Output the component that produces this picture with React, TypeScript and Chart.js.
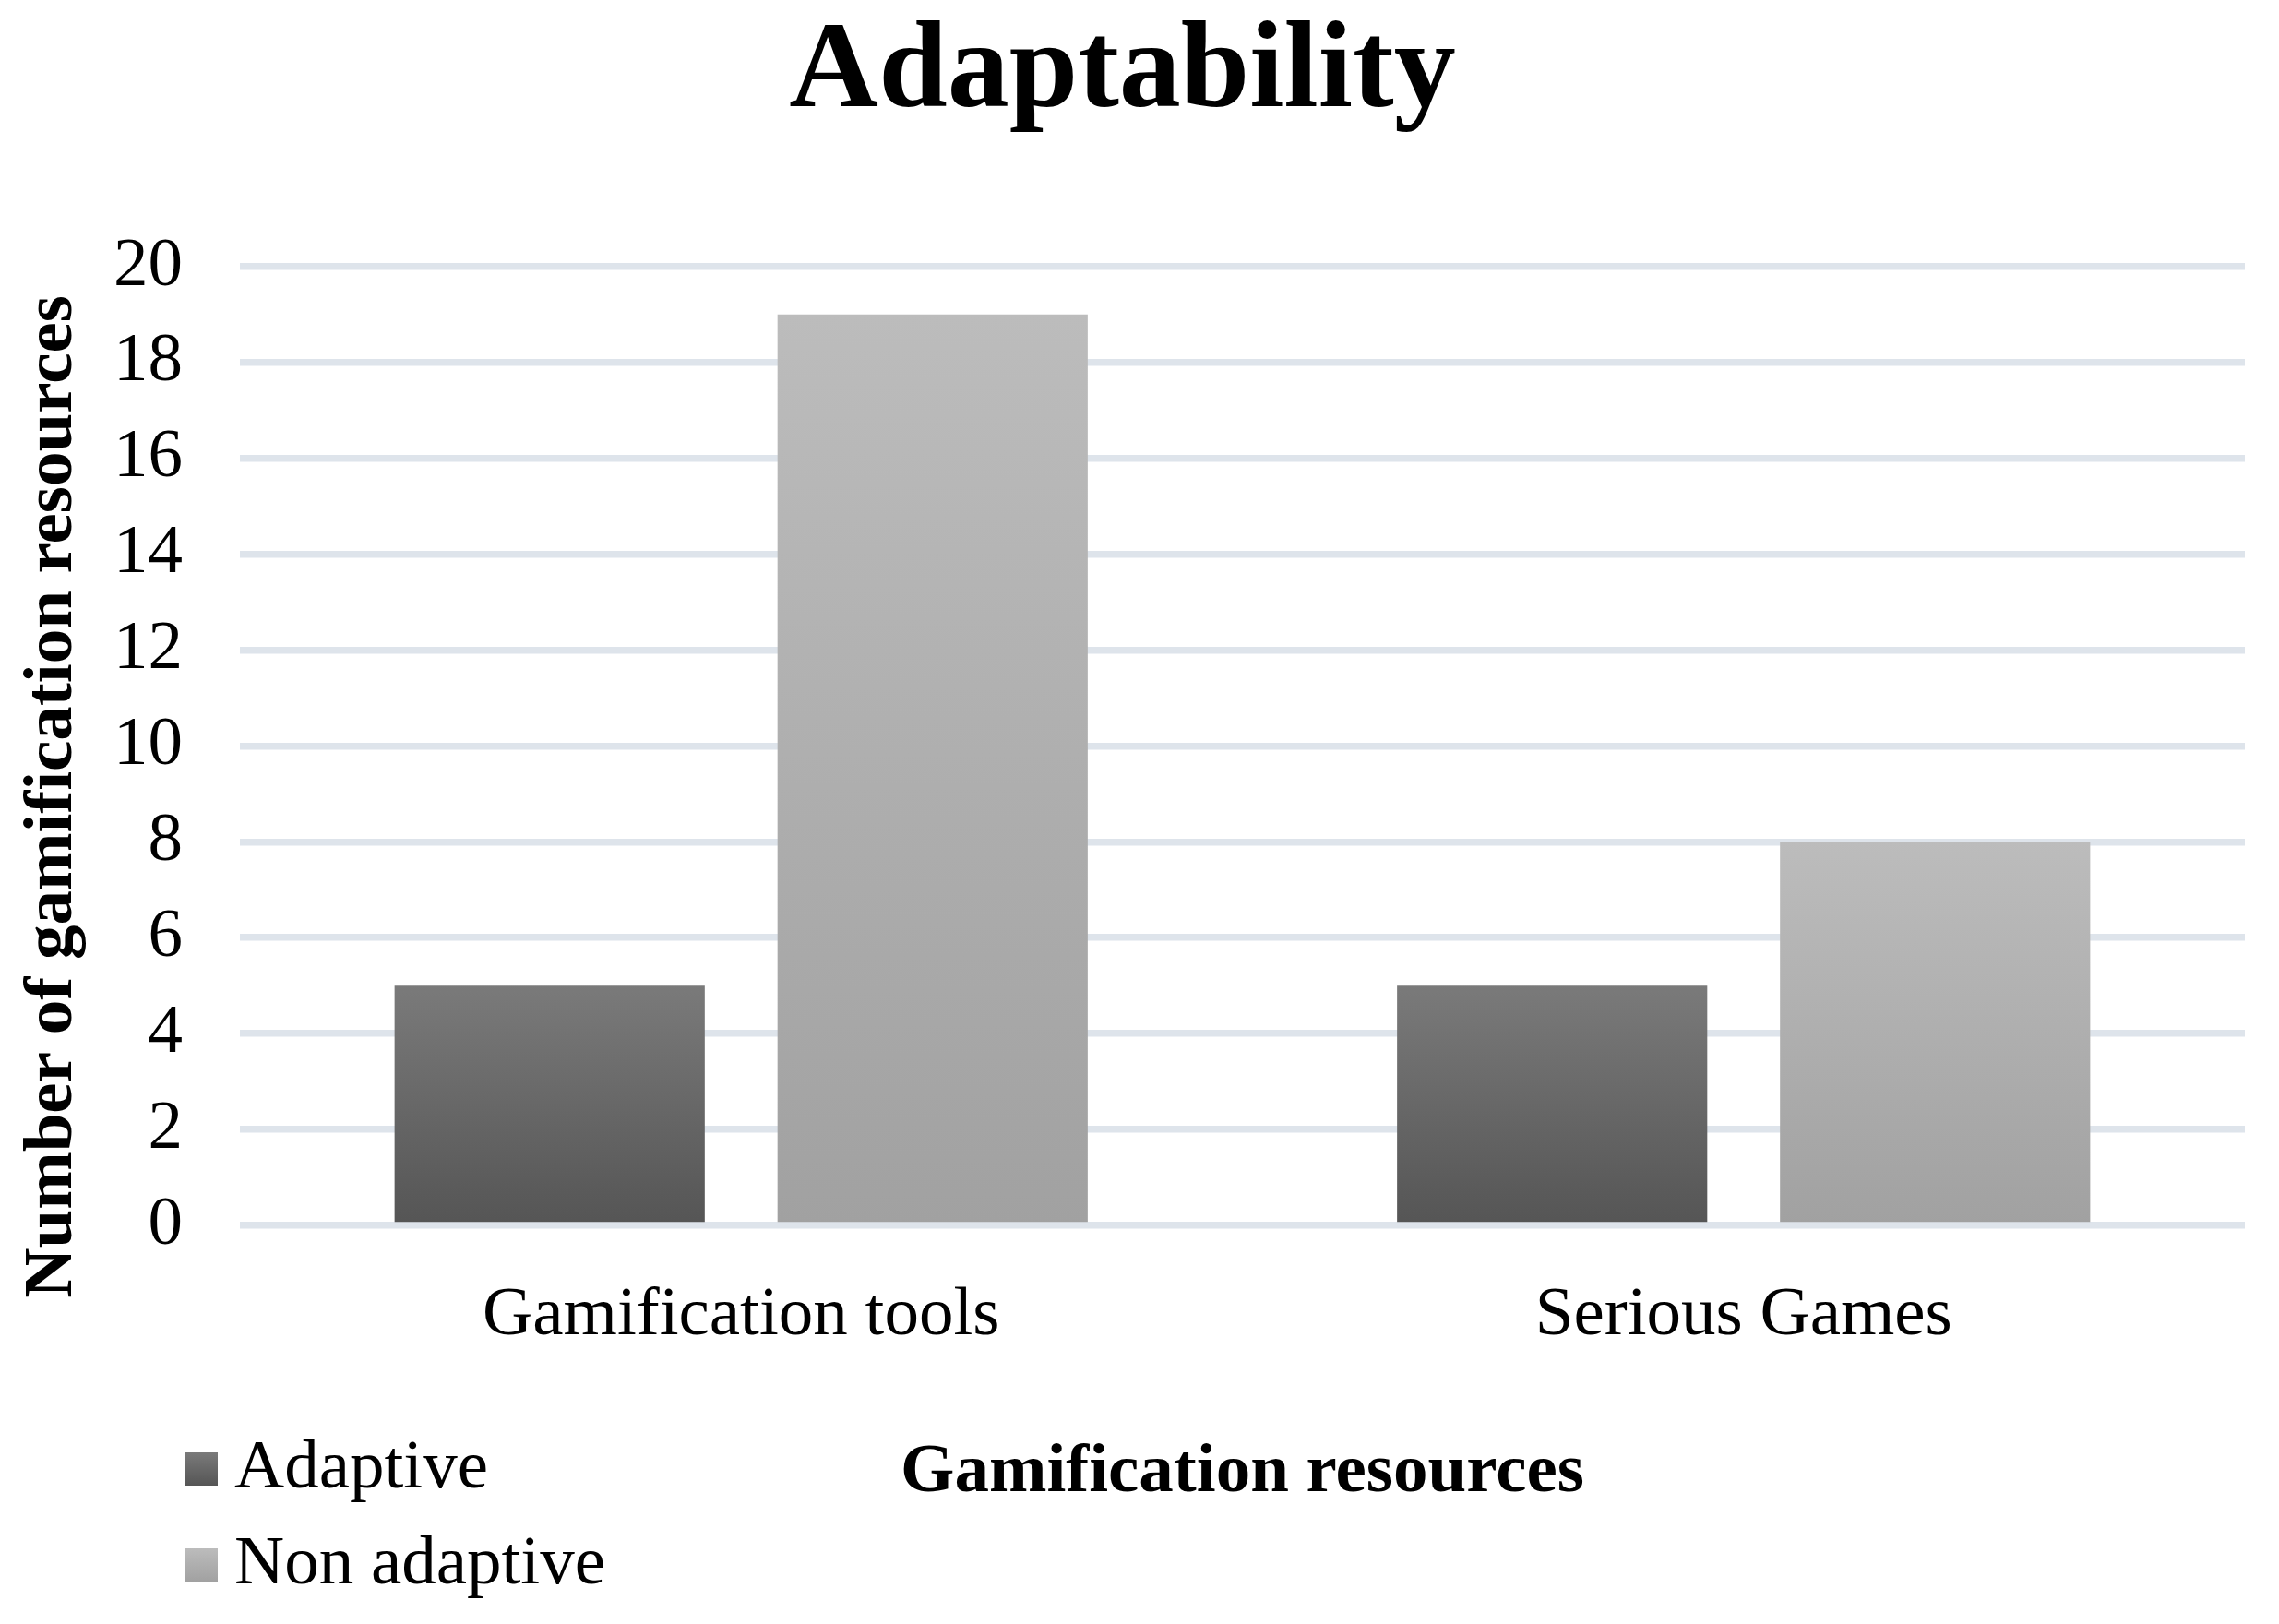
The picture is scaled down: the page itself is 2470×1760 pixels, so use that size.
import { useEffect, useRef } from 'react';
import { Chart, registerables } from 'chart.js';

Chart.register(...registerables);

const categories = ['Gamification tools', 'Serious Games'];
const adaptive = [5, 5];
const nonAdaptive = [19, 8];
const seriesNames = ['Adaptive', 'Non adaptive'];
// top and bottom colour of each series' gradient
const seriesShades = [
  ['#7a7a7a', '#555555'],
  ['#bcbcbc', '#a1a1a1'],
];

const FONT = "'Liberation Serif', 'Times New Roman', serif";

function barFill(series: number) {
  return (ctx: any) => {
    const chart = ctx.chart;
    if (!chart.chartArea || ctx.type !== 'data') return seriesShades[series][1];
    const y = chart.scales.y;
    const top = y.getPixelForValue(ctx.raw);
    const bottom = y.getPixelForValue(0);
    const g = chart.ctx.createLinearGradient(0, top, 0, bottom);
    g.addColorStop(0, seriesShades[series][0]);
    g.addColorStop(1, seriesShades[series][1]);
    return g;
  };
}

// y title sits a little below the plot centre, legend is stacked at bottom left
const extrasPlugin = {
  id: 'extras',
  afterDraw(chart: any) {
    const { ctx, chartArea } = chart;
    ctx.save();
    ctx.fillStyle = '#000';
    ctx.font = `bold 75px ${FONT}`;
    ctx.textAlign = 'center';
    ctx.textBaseline = 'middle';
    ctx.translate(58, (chartArea.top + chartArea.bottom) / 2 + 55);
    ctx.rotate(-Math.PI / 2);
    ctx.fillText('Number of gamification resources', 0, 0);
    ctx.restore();

    ctx.save();
    const rows = [1592, 1696];
    chart.data.datasets.forEach((ds: any, i: number) => {
      const cy = rows[i];
      const g = ctx.createLinearGradient(0, cy - 18, 0, cy + 18);
      g.addColorStop(0, seriesShades[i][0]);
      g.addColorStop(1, seriesShades[i][1]);
      ctx.fillStyle = g;
      ctx.fillRect(200, cy - 18, 36, 36);
      ctx.fillStyle = '#000';
      ctx.font = `75px ${FONT}`;
      ctx.textAlign = 'left';
      ctx.textBaseline = 'middle';
      ctx.fillText(ds.label, 254, cy);
    });
    ctx.restore();
  },
};

function AdaptabilityChart() {
  const canvasRef = useRef<HTMLCanvasElement>(null);
  const chartRef = useRef<Chart | null>(null);

  useEffect(() => {
    if (!canvasRef.current) return;
    if (chartRef.current) chartRef.current.destroy();

    chartRef.current = new Chart(canvasRef.current, {
      type: 'bar',
      data: {
        labels: categories,
        datasets: [
          { label: seriesNames[0], data: adaptive, backgroundColor: barFill(0) },
          { label: seriesNames[1], data: nonAdaptive, backgroundColor: barFill(1) },
        ],
      },
      options: {
        responsive: true,
        maintainAspectRatio: false,
        animation: false,
        devicePixelRatio: 1,
        categoryPercentage: 0.764,
        barPercentage: 0.81,
        layout: { padding: { left: 0, right: 37, top: 0, bottom: 118 } },
        plugins: {
          legend: { display: false },
          tooltip: { enabled: false },
          title: {
            display: true,
            text: 'Adaptability',
            color: '#000',
            font: { family: FONT, size: 134, weight: 'bold' },
            padding: { top: 0, bottom: 128 },
          },
        },
        scales: {
          x: {
            grid: { display: false },
            border: { display: false },
            ticks: { color: '#000', font: { family: FONT, size: 75 }, padding: 45 },
            title: {
              display: true,
              text: 'Gamification resources',
              color: '#000',
              font: { family: FONT, size: 75, weight: 'bold' },
              padding: { top: 36, bottom: 0 },
            },
          },
          y: {
            min: 0,
            max: 20,
            afterFit: (scale: any) => {
              scale.width = 260;
            },
            ticks: { stepSize: 2, color: '#000', font: { family: FONT, size: 75 }, padding: 62 },
            grid: { color: '#dee4eb', lineWidth: 7.5, drawTicks: false },
            border: { display: false },
          },
        },
      },
      plugins: [extrasPlugin],
    });

    return () => {
      if (chartRef.current) {
        chartRef.current.destroy();
        chartRef.current = null;
      }
    };
  }, []);

  return (
    <div style={{ position: 'absolute', left: 0, top: 0, width: 2470, height: 1760, background: '#fff' }}>
      <canvas ref={canvasRef}></canvas>
    </div>
  );
}

export default function App() {
  return <AdaptabilityChart />;
}
